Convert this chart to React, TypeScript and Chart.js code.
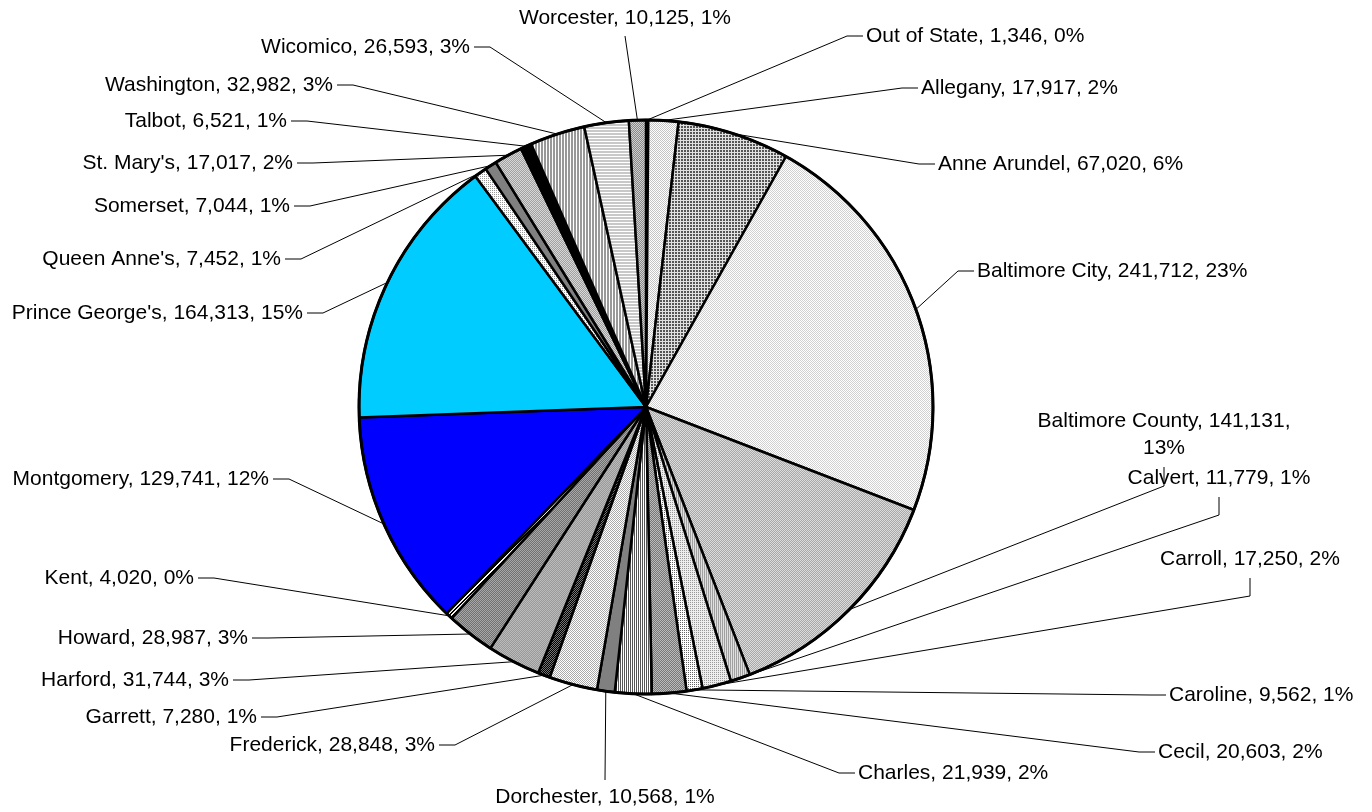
import React, { useEffect, useRef } from "react";
import { Chart, registerables } from "chart.js";

Chart.register(...registerables);

const categories: string[] = [
  "Out of State", "Allegany", "Anne Arundel", "Baltimore City", "Baltimore County",
  "Calvert", "Carroll", "Caroline", "Cecil", "Charles", "Dorchester", "Frederick",
  "Garrett", "Harford", "Howard", "Kent", "Montgomery", "Prince George's",
  "Queen Anne's", "Somerset", "St. Mary's", "Talbot", "Washington", "Wicomico", "Worcester",
];

const values: number[] = [
  1346, 17917, 67020, 241712, 141131,
  11779, 17250, 9562, 20603, 21939, 10568, 28848,
  7280, 31744, 28987, 4020, 129741, 164313,
  7452, 7044, 17017, 6521, 32982, 26593, 10125,
];

// Fill styles (pattern descriptors), one per category
const fillStyles: string[] = [
  "check:#808080:#ffffff", "check:#ffffff:#c4c4c4", "grid:#555555:#e0e0e0:3",
  "check:#ffffff:#d0d0d0", "check:#a8a8a8:#dcdcdc", "vline:#e0e0e0:#a0a0a0:2",
  "dots:#eeeeee:#999999:2", "dots:#ffffff:#666666:2", "check:#777777:#bbbbbb",
  "vline:#ffffff:#555555:2", "solid:#808080", "check:#ffffff:#aaaaaa",
  "check:#000000:#777777", "check:#999999:#bbbbbb", "check:#707070:#a8a8a8",
  "diag:#ffffff:#000000:4", "solid:#0000ff", "solid:#00ccff",
  "dots:#ffffff:#999999:2", "solid:#808080", "check:#a0a0a0:#d8d8d8",
  "solid:#000000", "vline:#999999:#ffffff:3", "hline:#c8c8c8:#ffffff:3",
  "check:#888888:#d0d0d0",
];

// Label layout: [x, y, align, connector]
// align: 'l' => x is left edge, 'r' => x is right edge, 'c' => x is center
// connector: 'L' leader from text left, 'R' from text right, 'B' below (with elbow), 'b' below straight, 'T' above straight
const labelLayout: [number, number, string, string][] = [
  [866, 36, "l", "L"],     // Out of State
  [921, 88, "l", "L"],     // Allegany
  [938, 164, "l", "L"],    // Anne Arundel
  [977, 271, "l", "L"],    // Baltimore City
  [1164, 421, "c", "B2"],  // Baltimore County
  [1219, 478, "c", "B"],   // Calvert
  [1250, 559, "c", "B"],   // Carroll
  [1169, 695, "l", "L"],   // Caroline
  [1158, 752, "l", "L"],   // Cecil
  [858, 773, "l", "L"],    // Charles
  [605, 797, "c", "T"],    // Dorchester
  [435, 745, "r", "R"],    // Frederick
  [257, 717, "r", "R"],    // Garrett
  [229, 680, "r", "R"],    // Harford
  [248, 638, "r", "R"],    // Howard
  [194, 578, "r", "R"],    // Kent
  [269, 479, "r", "R"],    // Montgomery
  [303, 313, "r", "R"],    // Prince George's
  [281, 259, "r", "R"],    // Queen Anne's
  [290, 206, "r", "R"],    // Somerset
  [293, 163, "r", "R"],    // St. Mary's
  [287, 121, "r", "R"],    // Talbot
  [333, 85, "r", "R"],     // Washington
  [470, 47, "r", "R"],     // Wicomico
  [625, 18, "c", "b"],     // Worcester
];

const FONT = '21px "Liberation Sans", Arial, sans-serif';

function makeFill(ctx: CanvasRenderingContext2D, desc: string): string | CanvasPattern {
  const p = desc.split(":");
  const type = p[0];
  if (type === "solid") return p[1];
  const c = document.createElement("canvas");
  let w = 2, h = 2;
  const n = p[3] ? parseInt(p[3], 10) : 2;
  if (type === "grid" || type === "diag" || type === "dots") { w = n; h = n; }
  if (type === "vline") { w = n; h = 1; }
  if (type === "hline") { w = 1; h = n; }
  c.width = w; c.height = h;
  const x = c.getContext("2d")!;
  x.fillStyle = p[1];
  x.fillRect(0, 0, w, h);
  x.fillStyle = p[2];
  if (type === "check") { x.fillRect(0, 0, 1, 1); x.fillRect(1, 1, 1, 1); }
  else if (type === "grid") { x.fillRect(n - 1, 0, 1, n); x.fillRect(0, n - 1, n, 1); }
  else if (type === "dots") { x.fillRect(0, 0, 1, 1); }
  else if (type === "vline") { x.fillRect(0, 0, 1, 1); }
  else if (type === "hline") { x.fillRect(0, 0, 1, 1); }
  else if (type === "diag") { for (let i = 0; i < n; i++) { x.fillRect(i, n - 1 - i, 1, 1); x.fillRect((i + 1) % n, n - 1 - i, 1, 1); } }
  return ctx.createPattern(c, "repeat") as CanvasPattern;
}

function fmt(v: number): string {
  return v.toLocaleString("en-US");
}

const labelsPlugin = {
  id: "leaderLabels",
  afterDatasetsDraw(chart: any) {
    const ctx: CanvasRenderingContext2D = chart.ctx;
    const meta = chart.getDatasetMeta(0);
    const total = values.reduce((a, b) => a + b, 0);
    ctx.save();
    // outer circle
    const a0 = meta.data[0];
    ctx.beginPath();
    ctx.arc(a0.x, a0.y, a0.outerRadius, 0, Math.PI * 2);
    ctx.lineWidth = 3;
    ctx.strokeStyle = "#000";
    ctx.stroke();

    ctx.font = FONT;
    ctx.fillStyle = "#000";
    ctx.textBaseline = "middle";
    ctx.strokeStyle = "#000";
    ctx.lineWidth = 1;
    meta.data.forEach((arc: any, i: number) => {
      const mid = (arc.startAngle + arc.endAngle) / 2;
      const px = arc.x + Math.cos(mid) * arc.outerRadius;
      const py = arc.y + Math.sin(mid) * arc.outerRadius;
      const [lx, ly, align, conn] = labelLayout[i];
      const pct = Math.round((values[i] / total) * 100);
      let lines: string[];
      if (conn === "B2") {
        lines = [`${categories[i]}, ${fmt(values[i])},`, `${pct}%`];
      } else {
        lines = [`${categories[i]}, ${fmt(values[i])}, ${pct}%`];
      }
      const w0 = ctx.measureText(lines[0]).width;
      lines.forEach((t, k) => {
        const tw = ctx.measureText(t).width;
        let tx = lx;
        if (align === "r") tx = lx - tw;
        else if (align === "c") tx = lx - tw / 2;
        ctx.fillText(t, tx, ly + k * 27);
      });
      const pts: [number, number][] = [];
      if (conn === "L") {
        pts.push([lx - 3, ly], [lx - 19, ly]);
      } else if (conn === "R") {
        const right = align === "r" ? lx : lx + w0;
        pts.push([right + 4, ly], [right + 20, ly]);
      } else if (conn === "B") {
        pts.push([lx, ly + 19], [lx, ly + 37]);
      } else if (conn === "B2") {
        pts.push([lx, ly + 46], [lx, ly + 65]);
      } else if (conn === "b") {
        pts.push([lx, ly + 18]);
      } else if (conn === "T") {
        pts.push([lx, ly - 17]);
      }
      pts.push([px, py]);
      ctx.beginPath();
      ctx.moveTo(pts[0][0], pts[0][1]);
      for (let k = 1; k < pts.length; k++) ctx.lineTo(pts[k][0], pts[k][1]);
      ctx.stroke();
    });
    ctx.restore();
  },
};

export default function App() {
  const ref = useRef<HTMLCanvasElement | null>(null);
  useEffect(() => {
    const canvas = ref.current!;
    const ctx = canvas.getContext("2d")!;
    const fills = fillStyles.map((d) => makeFill(ctx, d));
    const chart = new Chart(canvas, {
      type: "pie",
      data: {
        labels: categories,
        datasets: [
          {
            data: values,
            backgroundColor: fills as any,
            borderColor: "#000000",
            borderWidth: 2.5,
          },
        ],
      },
      options: {
        responsive: false,
        animation: false,
        radius: 287,
        layout: { padding: { left: 359, right: 439, top: 120, bottom: 118 } },
        plugins: {
          legend: { display: false },
          tooltip: { enabled: false },
          title: { display: false },
        },
      } as any,
      plugins: [labelsPlugin],
    });
    return () => chart.destroy();
  }, []);
  return (
    <div style={{ position: "absolute", left: 0, top: 0, width: 1372, height: 812, background: "#fff" }}>
      <canvas ref={ref} width={1372} height={812} style={{ display: "block" }} />
    </div>
  );
}
